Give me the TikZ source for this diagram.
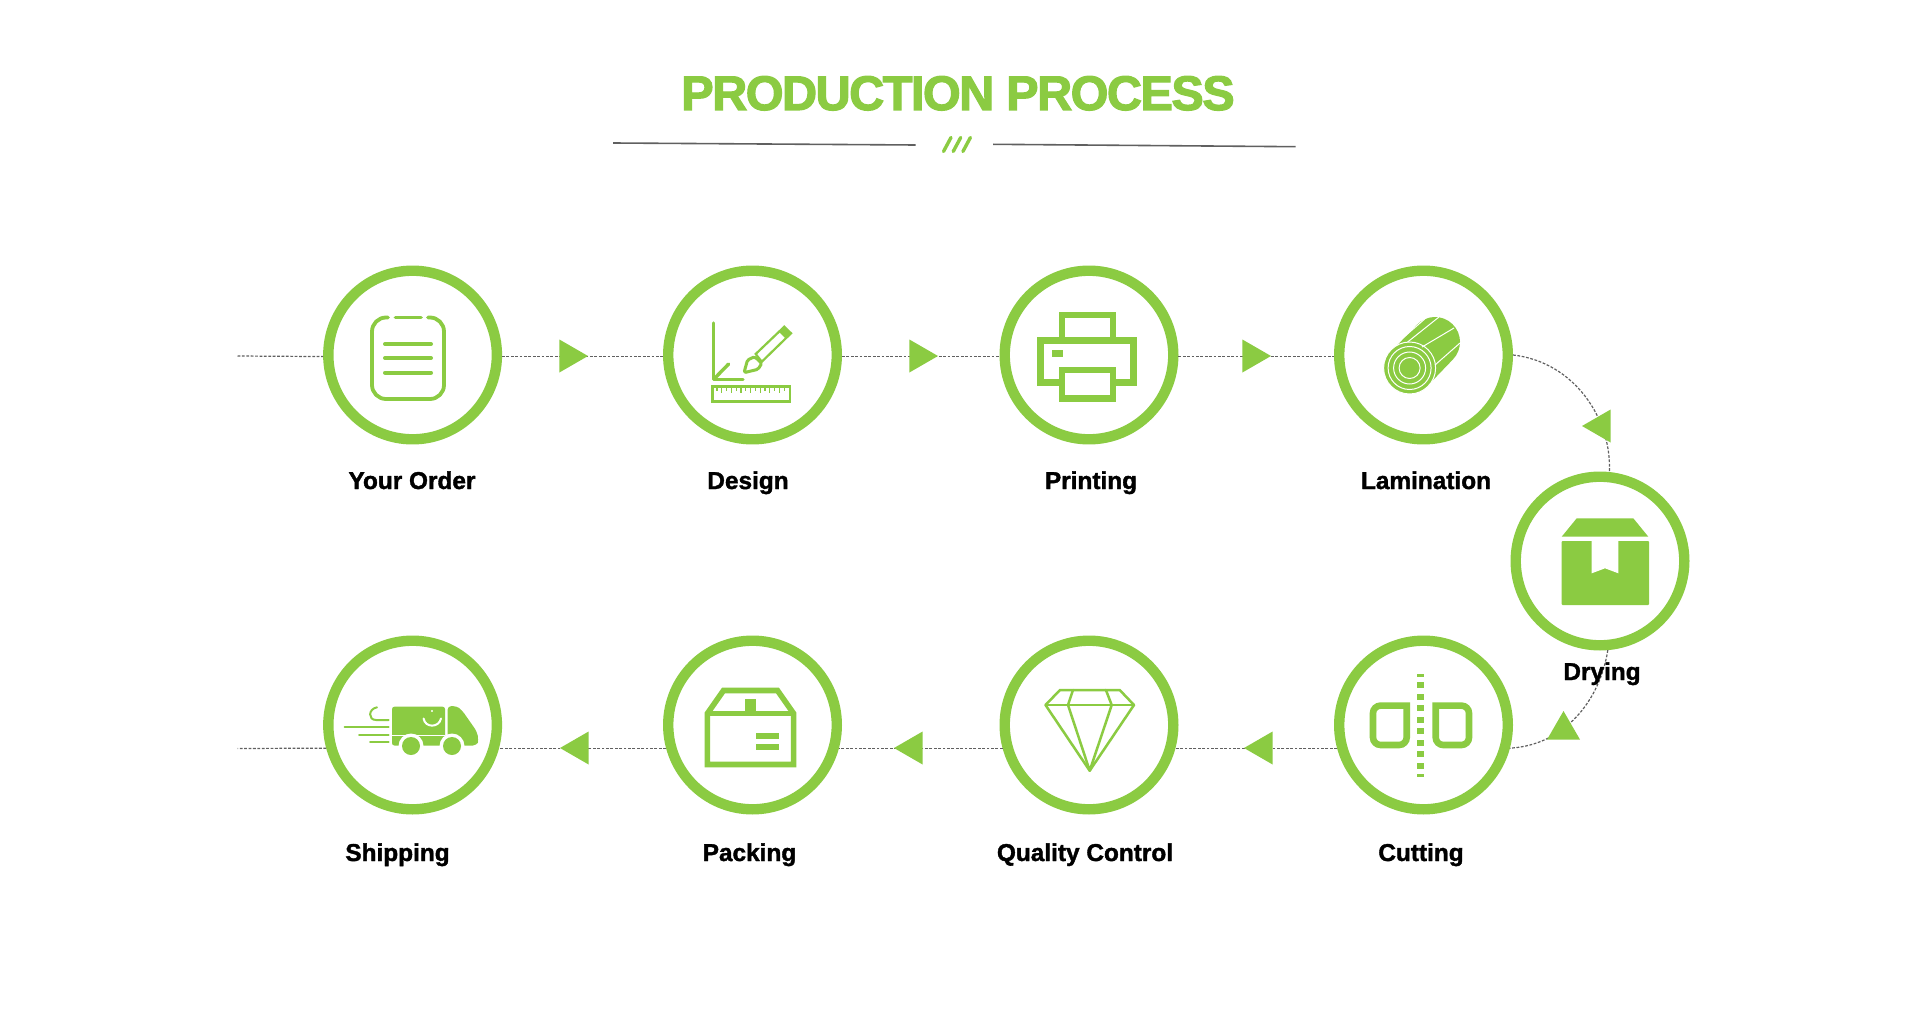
\documentclass[tikz,border=0pt]{standalone}
\usepackage{fontspec}
\setmainfont{Liberation Sans}[BoldFeatures={FakeBold=1.5}]
\newfontfamily\titlefont{Liberation Sans}[LetterSpace=-3,BoldFeatures={FakeBold=2.5}]
\usetikzlibrary{shapes.geometric}
\definecolor{leafgreen}{HTML}{8BCB42}
\definecolor{dashgrey}{HTML}{606060}
\definecolor{rulegrey}{HTML}{606060}
\newcommand{\steptext}[1]{\fontsize{34.7}{40}\selectfont\bfseries #1}
\tikzset{
  stepring/.style={draw=leafgreen, fill=white, circle, line width=0.52cm, minimum size=8.43cm, inner sep=0pt},
  steplabel/.style={anchor=base, inner sep=0pt, text=black},
  flowtip/.style={isosceles triangle, isosceles triangle stretches, fill=leafgreen, inner sep=0pt, outer sep=0pt,
        minimum width=1.65cm, minimum height=1.43cm, anchor=apex, shape border rotate=#1},
  flowline/.style={draw=dashgrey, line width=0.06cm, dash pattern=on 0.14cm off 0.08cm},
  px/.style={line width=#1*0.05cm},
  iconline/.style={draw=leafgreen, px=#1, line cap=round, line join=round},
  iconbox/.style={draw=leafgreen, px=#1, miter limit=10}
}
\begin{document}
\begin{tikzpicture}[x=0.05cm, y=-0.05cm]
  \useasboundingbox (0,0) rectangle (1920,1014);

  \node[steplabel, text=leafgreen, font=\fontsize{69}{75}\selectfont\titlefont\bfseries] (title) at (958,110) {PRODUCTION PROCESS};
  \draw[rulegrey, px=1.6] (613,143) -- (915.5,145);
  \draw[rulegrey, px=1.6] (993,144.3) -- (1295.5,146.7);
  \foreach \i in {0,1,2} {
    \draw[iconline=3.4] (943.5+\i*9.7,151.5) -- (951+\i*9.7,137.5);
  }

  \coordinate (tailtop) at (237.5,356);
  \coordinate (tailbottom) at (237.5,748.5);

  \node[stepring] (order) at (412.6,355) {};
  \node[stepring] (design) at (752.5,355) {};
  \node[stepring] (printing) at (1089,355) {};
  \node[stepring] (lamination) at (1423.5,355) {};
  \node[stepring] (drying) at (1600,561) {};
  \node[stepring] (cutting) at (1423.5,725) {};
  \node[stepring] (quality) at (1089,725) {};
  \node[stepring] (packing) at (752.5,725) {};
  \node[stepring] (shipping) at (412.6,725) {};

  \draw[flowline] (tailtop) -- (order.181);
  \draw[flowline] (order.-1) -- (design.181);
  \draw[flowline] (design.-1) -- (printing.181);
  \draw[flowline] (printing.-1) -- (lamination.181);
  \draw[flowline] (lamination.east) .. controls (1575,362) and (1612,420) .. (drying.84);
  \draw[flowline] (drying.-85) .. controls (1600,700) and (1565,745) .. (cutting.-15);
  \draw[flowline] (cutting.195) -- (quality.-15);
  \draw[flowline] (quality.195) -- (packing.-15);
  \draw[flowline] (packing.195) -- (shipping.-15);
  \draw[flowline] (shipping.195) -- (tailbottom);

  \node[flowtip=0] (tipa) at (588,356) {};
  \node[flowtip=0] (tipb) at (938,356) {};
  \node[flowtip=0] (tipc) at (1271,356) {};
  \node[flowtip=180] (tipd) at (1582,426) {};
  \node[flowtip=90] (tipe) at (1563.5,711) {};
  \node[flowtip=180] (tipf) at (1244,748) {};
  \node[flowtip=180] (tipg) at (894,748) {};
  \node[flowtip=180] (tiph) at (560,748) {};

  \node[steplabel] (orderlabel) at (412,489) {\steptext{Your Order}};
  \node[steplabel] (designlabel) at (748,489) {\steptext{Design}};
  \node[steplabel] (printinglabel) at (1091,489) {\steptext{Printing}};
  \node[steplabel] (laminationlabel) at (1426,489) {\steptext{Lamination}};
  \node[steplabel] (dryinglabel) at (1602,680) {\steptext{Drying}};
  \node[steplabel] (cuttinglabel) at (1421,861) {\steptext{Cutting}};
  \node[steplabel] (qualitylabel) at (1085,861) {\steptext{Quality Control}};
  \node[steplabel] (packinglabel) at (749.5,861) {\steptext{Packing}};
  \node[steplabel] (shippinglabel) at (397.5,861) {\steptext{Shipping}};

  % clipboard
  \draw[iconline=3.8, rounded corners=0.7cm] (388,317.5) -- (372,317.5) -- (372,399) -- (444,399) -- (444,317.5) -- (428,317.5);
  \draw[iconline=3.8] (395.5,317.5) -- (421,317.5);
  \foreach \y in {344,358,372.7} {
    \draw[iconline=4] (385,\y) -- (431,\y);
  }

  % ruler and brush
  \draw[iconline=3.4] (713.6,323) -- (713.6,379.5) -- (743,379.5);
  \draw[iconline=3.4] (714,379) -- (728.6,364);
  \draw[iconbox=2.6] (712.3,386.3) rectangle (790,401.4);
  \foreach \i in {0,...,14} {
    \draw[leafgreen, px=1.2] (717+\i*4.8,387) -- (717+\i*4.8,{391+2*mod(\i,2)});
  }
  \draw[iconbox=2.2] (755.7,354) -- (784.3,326.7) -- (791,333.3) -- (761.8,361.7) -- cycle;
  \fill[leafgreen] (779,332) -- (784.3,326.7) -- (791,333.3) -- (785.5,338.5) -- cycle;
  \draw[iconline=3, rounded corners=0.08cm] (744,372.7) -- (747.5,360) -- (754.6,356.7) -- (761.8,363.3) -- (758,369.3) -- cycle;

  % printer
  \draw[iconbox=6.7] (1062,315) rectangle (1113,340);
  \draw[iconbox=6.7] (1040.3,340.7) rectangle (1133.8,382.3);
  \draw[iconbox=6.7, fill=white] (1062,370) rectangle (1113,398.6);
  \fill[leafgreen] (1052.4,350) rectangle (1062.8,357.3);

  % log
  \draw[leafgreen, px=50, line cap=round] (1410,368) -- (1435,342);
  \fill[leafgreen] (1409.6,368) circle[radius=26];
  \foreach \r in {26,21.5,16,10.5} {
    \draw[white, px=1] (1409.6,368) circle[radius=\r];
  }
  \draw[white, px=1] (1396,344) -- (1427,317);
  \draw[white, px=1] (1407.6,342) -- (1439,317);
  \draw[white, px=1] (1422,347) -- (1454,328);
  \draw[white, px=1] (1435,365) -- (1460,343);

  % parcel
  \fill[leafgreen] (1561.7,536.7) -- (1576.7,518.3) -- (1633.3,518.3) -- (1648.3,536.7) -- cycle;
  \fill[leafgreen, rounded corners=0.05cm] (1561.7,541) rectangle (1649,605);
  \fill[white] (1591.7,540) -- (1618.3,540) -- (1618.3,573.3) -- (1605,568.3) -- (1591.7,573.3) -- cycle;

  % cut mark
  \draw[iconbox=6.6] (1406.7,705.6) [rounded corners=0.38cm] -- (1373,705.6) -- (1373,745) -- (1406.7,745) [sharp corners] -- cycle;
  \draw[iconbox=6.6] (1435.7,705.6) [rounded corners=0.38cm] -- (1469,705.6) -- (1469,745) -- (1435.7,745) [sharp corners] -- cycle;
  \fill[leafgreen] (1417.2,674) rectangle (1424.1,676.7);
  \foreach \i in {0,...,7} {
    \fill[leafgreen] (1417.2,682.3+\i*11.5) rectangle (1424.1,688.3+\i*11.5);
  }
  \fill[leafgreen] (1417.2,774.3) rectangle (1424.1,776.7);

  % diamond
  \draw[iconline=2.5] (1060,690) -- (1119.7,690) -- (1134,705) -- (1089.7,770.7) -- (1045.5,705) -- cycle;
  \draw[iconline=2.5] (1045.5,705) -- (1134,705);
  \draw[iconline=2.5] (1073,690) -- (1068,705) -- (1089.7,770.7) -- (1111.7,705) -- (1105.9,690);

  % carton
  \draw[iconbox=5.6] (723.5,690.5) -- (777.5,690.5) -- (793.6,713.5) -- (793.6,764.5) -- (707.4,764.5) -- (707.4,713.5) -- cycle;
  \draw[iconbox=5.6] (707.4,713.5) -- (793.6,713.5);
  \fill[leafgreen] (745,699.3) rectangle (756.4,712);
  \fill[leafgreen] (756.4,733.3) rectangle (779.3,738.7);
  \fill[leafgreen] (756.4,744.3) rectangle (779.3,750);

  % truck
  \fill[leafgreen, rounded corners=0.12cm] (392,706.7) rectangle (445,745.5);
  \fill[white] (392,735) rectangle (445,736.4);
  \fill[leafgreen, rounded corners=0.2cm] (447.5,706) -- (456.4,706) -- (461.8,710) -- (477,731.7) -- (478.6,740) -- (477,745.5) -- (447.5,745.5) -- cycle;
  \fill[white] (411,746) circle[radius=12.5];
  \fill[white] (452,746) circle[radius=12.5];
  \fill[leafgreen] (411,746) circle[radius=9];
  \fill[leafgreen] (452,746) circle[radius=9];
  \draw[white, px=2, line cap=round] (423.6,718.5) .. controls (425,728) and (439,728) .. (441,718.5);
  \fill[white] (432,711) circle[radius=1.1];
  \draw[iconline=2] (344.5,727.3) -- (388.6,727.3);
  \draw[iconline=2] (359,734.7) -- (388.6,734.7);
  \draw[iconline=2] (370,742.3) -- (388.6,742.3);
  \draw[iconline=2] (377,707.3) .. controls (368,709) and (368,720) .. (376,720) -- (388.6,720);
\end{tikzpicture}
\end{document}
